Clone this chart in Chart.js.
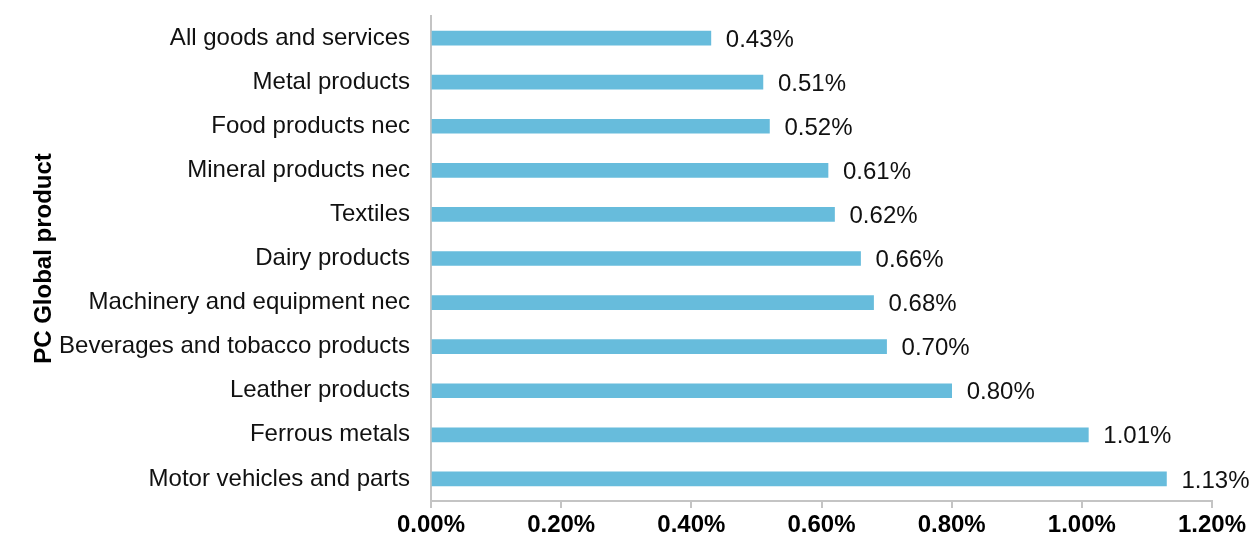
<!DOCTYPE html>
<html>
<head>
<meta charset="utf-8">
<script src="https://cdn.jsdelivr.net/npm/chart.js@4"></script>
<style>
  body { margin: 0; background: #fff; }
  #wrap { width: 1252px; height: 541px; }
</style>
</head>
<body>
<div id="wrap"><canvas id="pcChart"></canvas></div>
<script>
// products, top to bottom
const products = [
  'All goods and services',
  'Metal products',
  'Food products nec',
  'Mineral products nec',
  'Textiles',
  'Dairy products',
  'Machinery and equipment nec',
  'Beverages and tobacco products',
  'Leather products',
  'Ferrous metals',
  'Motor vehicles and parts'
];

// price change, in percent
const priceChange = [0.43, 0.51, 0.52, 0.61, 0.62, 0.66, 0.68, 0.70, 0.80, 1.01, 1.13];

const xTicks = [0, 0.2, 0.4, 0.6, 0.8, 1.0, 1.2];

const FONT = '"Liberation Sans", Arial, sans-serif';
const axisGrey = '#c4c4c4';

// writes "0.43%" etc. just past the end of each bar
const valueLabels = {
  id: 'valueLabels',
  afterDatasetsDraw(chart) {
    const ctx = chart.ctx;
    const meta = chart.getDatasetMeta(0);
    ctx.save();
    ctx.font = '24px ' + FONT;
    ctx.fillStyle = '#111';
    ctx.textAlign = 'left';
    ctx.textBaseline = 'middle';
    meta.data.forEach((bar, i) => {
      const v = chart.data.datasets[0].data[i];
      ctx.fillText(v.toFixed(2) + '%', bar.x + 15, bar.y + 2);
    });
    ctx.restore();
  }
};

const ctx = document.getElementById('pcChart');

new Chart(ctx, {
  type: 'bar',
  data: {
    labels: products,
    datasets: [{
      data: priceChange,
      backgroundColor: '#67bcdc',
      barThickness: 14
    }]
  },
  plugins: [valueLabels],
  options: {
    indexAxis: 'y',
    responsive: true,
    maintainAspectRatio: false,
    animation: false,
    layout: { padding: { top: 16, right: 40, left: 26, bottom: 0 } },
    plugins: {
      legend: { display: false },
      tooltip: { enabled: false }
    },
    scales: {
      x: {
        min: 0,
        max: 1.2,
        afterBuildTicks(scale) {
          scale.ticks = xTicks.map(v => ({ value: v }));
        },
        afterFit(scale) { scale.height = 40; },
        grid: {
          drawOnChartArea: false,
          drawTicks: true,
          tickLength: 7,
          color: axisGrey,
          lineWidth: 2
        },
        border: { color: axisGrey, width: 2 },
        ticks: {
          padding: 3,
          color: '#000',
          font: { family: FONT, size: 24, weight: 'bold' },
          callback: v => v.toFixed(2) + '%'
        }
      },
      y: {
        afterFit(scale) {
          scale.width = 431 - 26;
          scale.paddingTop = 0;
          scale.paddingBottom = 0;
        },
        grid: { drawOnChartArea: false, drawTicks: false },
        border: { color: axisGrey, width: 2 },
        title: {
          display: true,
          text: 'PC Global product',
          color: '#000',
          font: { family: FONT, size: 24, weight: 'bold' },
          padding: { top: 4, bottom: 4 }
        },
        ticks: {
          padding: 21,
          color: '#111',
          font: { family: FONT, size: 24 }
        }
      }
    }
  }
});
</script>
</body>
</html>
